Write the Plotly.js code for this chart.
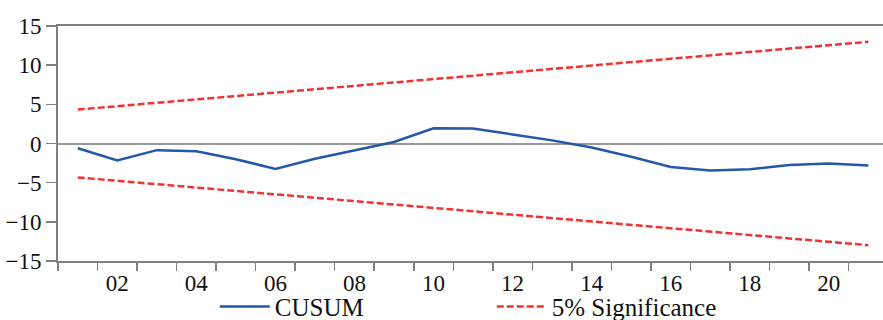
<!DOCTYPE html>
<html>
<head>
<meta charset="utf-8">
<script src="https://cdn.plot.ly/plotly-3.0.1.min.js"></script>
<style>html,body{margin:0;padding:0;background:#fff;}#chart{width:883px;height:320px;}</style>
</head>
<body>
<div id="chart"></div>
<script>
const years = ['2001','2002','2003','2004','2005','2006','2007','2008','2009','2010','2011','2012','2013','2014','2015','2016','2017','2018','2019','2020','2021'];
const tickLabels = ['','02','','04','','06','','08','','10','','12','','14','','16','','18','','20',''];
const cusum = [-0.6,-2.15,-0.85,-1.0,-2.0,-3.25,-1.95,-0.9,0.2,1.95,1.9,1.15,0.4,-0.5,-1.7,-3.0,-3.45,-3.3,-2.75,-2.55,-2.8];
const upper5 = [4.33,4.76,5.19,5.63,6.06,6.49,6.92,7.36,7.79,8.22,8.65,9.09,9.52,9.95,10.38,10.82,11.25,11.68,12.11,12.55,12.98];
const lower5 = [-4.33,-4.76,-5.19,-5.63,-6.06,-6.49,-6.92,-7.36,-7.79,-8.22,-8.65,-9.09,-9.52,-9.95,-10.38,-10.82,-11.25,-11.68,-12.11,-12.55,-12.98];

const FONT = "'Liberation Serif', serif";
const traces = [
  {x: years, y: cusum, type: 'scatter', mode: 'lines', name: 'CUSUM',
   line: {color: '#2457a8', width: 2.5}},
  {x: years, y: upper5, type: 'scatter', mode: 'lines', name: '5% Significance',
   line: {color: '#ee3333', width: 2.5, dash: '7px,3px'}},
  {x: years, y: lower5, type: 'scatter', mode: 'lines', name: '5% Significance',
   showlegend: false, line: {color: '#ee3333', width: 2.5, dash: '7px,3px'}}
];
const layout = {
  width: 883, height: 320,
  margin: {l: 58, r: 0, t: 26, b: 59, autoexpand: false},
  paper_bgcolor: '#fff', plot_bgcolor: '#fff',
  font: {family: FONT, size: 23, color: '#111'},
  showlegend: true,
  legend: {orientation: 'h', x: 0.19, xanchor: 'left', y: -0.097, yanchor: 'top',
           font: {family: FONT, size: 25, color: '#111'}, itemwidth: 50, entrywidth: 212,
           bgcolor: 'rgba(0,0,0,0)'},
  xaxis: {type: 'category', range: [-0.5, 20.37], tickvals: years, ticktext: tickLabels,
          tickson: 'boundaries', ticks: 'outside', ticklen: 8, tickwidth: 1.5, tickcolor: '#808080',
          showline: true, linecolor: '#808080', linewidth: 2, mirror: true,
          showgrid: false, zeroline: false, tickangle: 0,
          tickfont: {family: FONT, size: 23, color: '#111'}},
  yaxis: {range: [-15, 15], tickvals: [-15,-10,-5,0,5,10,15], ticks: 'outside', ticklen: 10,
          tickwidth: 1.5, tickcolor: '#808080', showline: true, linecolor: '#808080', linewidth: 2,
          showgrid: false, zeroline: true, zerolinecolor: '#999999', zerolinewidth: 2,
          tickfont: {family: FONT, size: 23, color: '#111'}}
};
Plotly.newPlot('chart', traces, layout, {displayModeBar: false, staticPlot: true});
</script>
</body>
</html>
